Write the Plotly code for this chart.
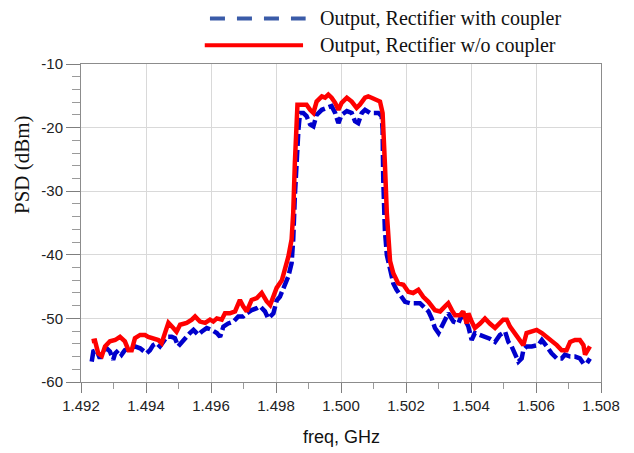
import plotly.graph_objects as go

# Output, Rectifier with coupler (blue dashed)
freq_cpl = [1.49233, 1.49238, 1.49248, 1.49258, 1.49269, 1.49279, 1.49289, 1.49299, 1.49305, 1.49315,
            1.49325, 1.49335, 1.49351, 1.49366, 1.49382, 1.49392, 1.49402, 1.49412, 1.49422, 1.49433,
            1.49443, 1.49453, 1.49464, 1.49479, 1.49489, 1.49499, 1.4951, 1.4952, 1.49535, 1.49546,
            1.49561, 1.49571, 1.49587, 1.49602, 1.49618, 1.49628, 1.49638, 1.49653, 1.49669, 1.49684,
            1.49699, 1.4971, 1.49725, 1.49741, 1.49751, 1.49766, 1.49776, 1.49792, 1.49802, 1.49812,
            1.49822, 1.49828, 1.49838, 1.49848, 1.49853, 1.49858, 1.49864, 1.49869, 1.49874, 1.49884,
            1.49894, 1.49905, 1.49915, 1.49925, 1.49941, 1.49956, 1.49971, 1.49982, 1.49992, 1.50002,
            1.50018, 1.50033, 1.50043, 1.50053, 1.50064, 1.50074, 1.50089, 1.50105, 1.50115, 1.50125,
            1.50128, 1.5013, 1.50135, 1.50141, 1.50151, 1.50161, 1.50171, 1.50182, 1.50197, 1.50212,
            1.50228, 1.50243, 1.50253, 1.50269, 1.50279, 1.50289, 1.503, 1.5031, 1.5032, 1.5033,
            1.50346, 1.50361, 1.50371, 1.50382, 1.50392, 1.50402, 1.50412, 1.50428, 1.50443, 1.50458,
            1.50474, 1.50489, 1.50505, 1.50515, 1.50525, 1.50535, 1.50546, 1.50556, 1.50561, 1.50571,
            1.50587, 1.50607, 1.50618, 1.50633, 1.50648, 1.50664, 1.50679, 1.50689, 1.50705, 1.5072,
            1.50735, 1.50746, 1.50756, 1.50766]
psd_cpl = [-56.8, -55.2, -55.0, -56.3, -55.0, -54.7, -55.2, -56.5, -55.5, -55.0,
           -55.7, -55.0, -54.7, -54.4, -54.7, -55.0, -55.5, -55.0, -54.2, -53.9,
           -54.4, -53.7, -52.9, -52.9, -53.1, -54.4, -53.7, -53.1, -52.3, -51.8,
           -52.6, -52.1, -51.5, -51.8, -52.3, -52.9, -51.3, -50.8, -50.5, -49.7,
           -49.7, -49.2, -48.7, -48.4, -48.1, -48.9, -50.0, -49.2, -47.2, -46.6,
           -45.5, -44.5, -43.4, -41.3, -37.6, -30.8, -23.5, -20.3, -17.7, -17.7,
           -18.2, -19.5, -19.8, -18.0, -17.2, -16.9, -16.6, -17.7, -19.3, -18.0,
           -17.4, -17.7, -19.0, -19.3, -17.7, -17.2, -17.7, -17.7, -17.7, -18.2,
           -20.3, -28.2, -36.1, -40.0, -42.4, -44.5, -45.5, -46.3, -47.4, -47.6,
           -47.6, -47.6, -48.1, -48.9, -50.0, -51.5, -52.3, -51.3, -50.0, -49.2,
           -50.5, -50.8, -49.5, -50.2, -51.3, -53.4, -52.3, -52.6, -52.9, -53.2,
           -53.7, -52.6, -52.1, -53.7, -54.4, -55.5, -56.8, -56.3, -55.0, -54.4,
           -54.4, -54.2, -53.4, -54.4, -55.5, -56.3, -56.3, -55.7, -56.0, -56.0,
           -56.3, -57.1, -57.1, -56.3]

# Output, Rectifier w/o coupler (red solid)
freq_nocpl = [1.49233, 1.49243, 1.49253, 1.49264, 1.49274, 1.49289, 1.49305, 1.4932, 1.49335, 1.49346,
              1.49356, 1.49366, 1.49382, 1.49397, 1.49407, 1.49422, 1.49438, 1.49448, 1.49458, 1.49469,
              1.49484, 1.49494, 1.49505, 1.49525, 1.49541, 1.49551, 1.49566, 1.49582, 1.49597, 1.49607,
              1.49618, 1.49633, 1.49643, 1.49658, 1.49674, 1.49689, 1.49699, 1.4971, 1.49725, 1.49741,
              1.49756, 1.49771, 1.49782, 1.49792, 1.49802, 1.49818, 1.49828, 1.49838, 1.49848, 1.49853,
              1.49858, 1.49863, 1.49866, 1.49879, 1.49894, 1.49905, 1.49915, 1.49925, 1.49941, 1.49951,
              1.49961, 1.49971, 1.49982, 1.49992, 1.50002, 1.50018, 1.50033, 1.50048, 1.50058, 1.50074,
              1.50084, 1.50094, 1.5011, 1.5012, 1.50128, 1.50131, 1.50135, 1.50141, 1.50146, 1.50151,
              1.50161, 1.50176, 1.50192, 1.50207, 1.50222, 1.50238, 1.50253, 1.50269, 1.50289, 1.50305,
              1.5032, 1.5033, 1.50341, 1.50351, 1.50366, 1.50376, 1.50387, 1.50392, 1.50402, 1.50412,
              1.50428, 1.50443, 1.50458, 1.50474, 1.50499, 1.5051, 1.5052, 1.50535, 1.50551, 1.50561,
              1.50571, 1.50587, 1.50602, 1.50618, 1.50633, 1.50648, 1.50664, 1.50679, 1.50694, 1.50705,
              1.5072, 1.50735, 1.50746, 1.50751, 1.50761, 1.50766]
psd_nocpl = [-53.6, -53.5, -55.5, -55.9, -54.4, -53.6, -53.4, -52.9, -53.6, -55.0,
             -55.0, -53.1, -52.6, -52.6, -52.9, -53.1, -53.4, -53.9, -52.6, -50.7,
             -51.5, -52.1, -51.0, -50.7, -50.2, -49.7, -50.5, -50.7, -50.2, -50.5,
             -50.0, -50.2, -49.2, -49.2, -48.9, -47.1, -48.1, -48.9, -47.1, -46.8,
             -46.0, -47.3, -47.9, -46.5, -45.2, -44.0, -42.4, -40.3, -37.6, -33.4,
             -25.6, -20.3, -16.4, -16.4, -16.4, -17.2, -17.7, -15.9, -15.1, -15.3,
             -14.8, -15.3, -16.1, -17.2, -16.1, -15.3, -15.9, -16.9, -16.4, -15.3,
             -15.1, -15.3, -15.6, -15.9, -17.7, -20.3, -25.6, -33.4, -38.7, -41.0,
             -42.9, -44.5, -44.7, -45.8, -46.0, -45.5, -46.6, -47.4, -48.7, -48.9,
             -48.1, -47.6, -48.7, -49.5, -49.5, -48.9, -50.8, -49.2, -50.5, -51.5,
             -50.8, -50.0, -50.8, -51.5, -50.2, -50.2, -51.3, -52.3, -53.4, -54.2,
             -52.3, -52.1, -51.8, -52.3, -52.9, -53.7, -54.2, -55.0, -55.0, -53.7,
             -53.4, -53.4, -54.2, -55.7, -54.7, -54.4]

legend_names = ["Output, Rectifier with coupler", "Output, Rectifier w/o coupler"]
x_ticks = [1.492, 1.494, 1.496, 1.498, 1.500, 1.502, 1.504, 1.506, 1.508]
y_ticks = [-60, -50, -40, -30, -20, -10]

serif = "Liberation Serif, Times New Roman, serif"
sans = "Liberation Sans, Arial, sans-serif"

fig = go.Figure()
fig.add_trace(go.Scatter(x=freq_cpl, y=psd_cpl, mode="lines", name=legend_names[0],
                         line=dict(color="#0000CC", width=4.5, dash="12px,4px"), showlegend=False))
fig.add_trace(go.Scatter(x=freq_nocpl, y=psd_nocpl, mode="lines", name=legend_names[1],
                         line=dict(color="#FF0000", width=4.5), showlegend=False))

axis_common = dict(
    showline=True, linecolor="#8C8C8C", linewidth=1, mirror=True,
    showgrid=True, gridcolor="#D9D9D9", gridwidth=1, zeroline=False,
    ticks="outside", tickcolor="#7F7F7F",
    tickfont=dict(family=sans, size=15, color="#222222"),
)

fig.update_xaxes(range=[1.492, 1.508], tickvals=x_ticks, tickformat=".3f", ticklen=10,
                 minor=dict(dtick=0.001, ticklen=6, tickcolor="#9A9A9A", showgrid=False),
                 **axis_common)
# plain hyphen for negative labels, as in the original
fig.update_yaxes(range=[-60, -10], tickvals=y_ticks, ticktext=[str(v) for v in y_ticks], ticklen=14,
                 minor=dict(dtick=2, ticklen=8, tickcolor="#9A9A9A", showgrid=False),
                 **axis_common)

# custom legend swatches above the plot
leg_y = [1.143, 1.059]
fig.add_shape(type="line", xref="paper", yref="paper", x0=0.248, x1=0.432, y0=leg_y[0], y1=leg_y[0],
              line=dict(color="#3A5BA8", width=4, dash="15px,12px"))
fig.add_shape(type="line", xref="paper", yref="paper", x0=0.238, x1=0.427, y0=leg_y[1], y1=leg_y[1],
              line=dict(color="#FF0000", width=4))
for name, yy in zip(legend_names, leg_y):
    fig.add_annotation(text=name, xref="paper", yref="paper", x=0.456, y=yy,
                       xanchor="left", yanchor="middle", showarrow=False,
                       font=dict(family=serif, size=20, color="#111111"))

fig.add_annotation(text="PSD (dBm)", xref="paper", yref="paper", x=-0.113, y=0.683,
                   textangle=-90, showarrow=False, xanchor="center", yanchor="middle",
                   font=dict(family=serif, size=21, color="#111111"))
fig.add_annotation(text="freq, GHz", xref="paper", yref="paper", x=0.5, y=-0.173,
                   showarrow=False, xanchor="center", yanchor="middle",
                   font=dict(family=sans, size=18, color="#111111"))

# the page body adds an 8px margin, so the figure is 8px smaller on each offset side
fig.update_layout(
    width=626, height=445,
    margin=dict(l=73, r=33, t=56, b=71),
    paper_bgcolor="white", plot_bgcolor="white",
    showlegend=False,
)

fig.write_html("out.html")
